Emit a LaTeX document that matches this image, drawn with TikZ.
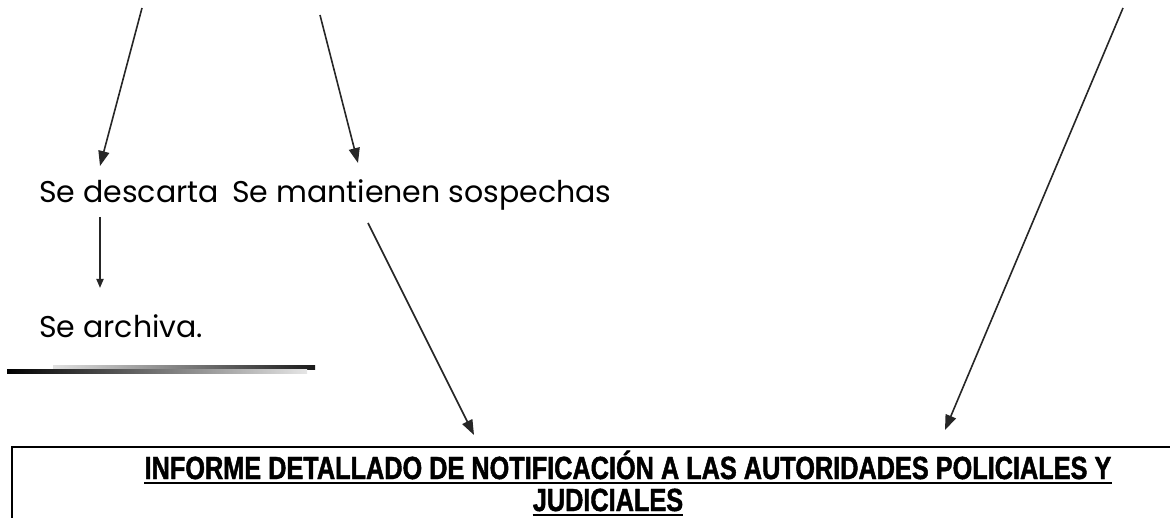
\documentclass[tikz,border=0pt]{standalone}
\usepackage{fontspec}
\setmainfont{Poppins}
\newfontfamily\hdrfont[FakeStretch=0.79,FakeBold=1.4]{Liberation Sans Bold}
\usetikzlibrary{arrows.meta}
\tikzset{
 lbl/.style={inner sep=0pt, anchor=base west, font=\fontsize{30}{30}\selectfont, text=black},
 arr/.style={line width=1.6pt, draw=black!85, -{Triangle[length=15pt,width=11pt]}},
 smallarr/.style={line width=1.8pt, draw=black!85, -{Triangle[length=9pt,width=7pt]}},
 hdr/.style={inner sep=0pt, anchor=base, font=\hdrfont\fontsize{32}{32}\selectfont},
 uline/.style={line width=2.2pt},
 boxline/.style={line width=2.5pt},
}
\begin{document}
\begin{tikzpicture}[x=1pt,y=-1pt]
\useasboundingbox (0,0) rectangle (1170,518);
% labels
\node[lbl] (desc) at (39,203) {Se descarta};
\node[lbl] (mant) at (232,203) {Se mantienen sospechas};
\node[lbl] (arch) at (39,338) {Se archiva.};
% arrow ends
\coordinate (s1) at (142,8);
\coordinate (t1) at (100,166);
\coordinate (s2) at (320,15);
\coordinate (t2) at (358,163);
\coordinate (s3) at (1123,8);
\coordinate (t3) at (945,430);
\coordinate (s5) at (368,223);
\coordinate (t5) at (474,435);
\coordinate (s4) at (100,217);
\coordinate (t4) at (100,288);
\draw[arr] (s1) -- (t1);
\draw[arr] (s2) -- (t2);
\draw[arr] (s3) -- (t3);
\draw[arr] (s5) -- (t5);
\draw[smallarr] (s4) -- (t4);
% gradient double rule
\shade[left color=black!12, right color=black!90] (53,366) rectangle (315,369.5);
\shade[left color=black, right color=black!10] (7,370) rectangle (307,374);
% header box
\coordinate (bl) at (12,518);
\coordinate (tl) at (12,447);
\coordinate (tr) at (1170,447);
\draw[boxline] (bl) -- (tl) -- (tr);
\node[hdr] (h1) at (628,479) {INFORME DETALLADO DE NOTIFICACIÓN A LAS AUTORIDADES POLICIALES Y};
\node[hdr] (h2) at (608,511) {JUDICIALES};
\draw[uline] ([yshift=-4pt]h1.base west) -- ([yshift=-4pt]h1.base east);
\draw[uline] ([yshift=-4pt]h2.base west) -- ([yshift=-4pt]h2.base east);
\end{tikzpicture}
\end{document}
